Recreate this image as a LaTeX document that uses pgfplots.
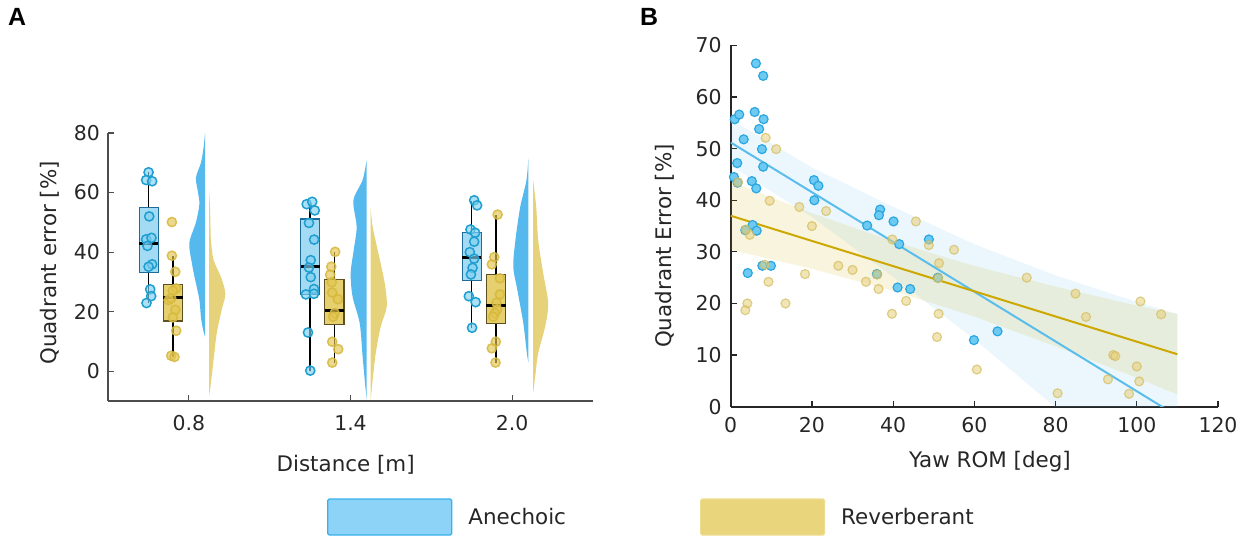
\documentclass[border=0pt]{standalone}
\usepackage{fontspec}
\setmainfont{DejaVu Sans}
\newfontfamily\lblfont{Liberation Sans}
\usepackage{pgfplots}
\pgfplotsset{compat=1.18}
\usepgfplotslibrary{statistics}

\definecolor{axgray}{HTML}{4D4D4D}
\definecolor{txtgray}{HTML}{262626}
\definecolor{vblue}{HTML}{55B9EE}
\definecolor{vyell}{HTML}{E6D27A}
\definecolor{mblue}{HTML}{1E9FD0}
\definecolor{mbluef}{HTML}{7FCFF0}
\definecolor{myell}{HTML}{D6B83C}
\definecolor{myellf}{HTML}{E3C550}
\definecolor{bxblue}{HTML}{A3DBF5}
\definecolor{bxblueedge}{HTML}{1D6D96}
\definecolor{bxyell}{HTML}{E5CF6E}
\definecolor{bxyelledge}{HTML}{5E5020}
\definecolor{lblue}{HTML}{5BBDEB}
\definecolor{lyell}{HTML}{CCA800}
\definecolor{pblue}{HTML}{6DCAF2}
\definecolor{pblueedge}{HTML}{2BA6DF}
\definecolor{pyell}{HTML}{E6D07A}
\definecolor{pyelledge}{HTML}{D4BC60}
\definecolor{legblue}{HTML}{8DD3F8}
\definecolor{legblueedge}{HTML}{38B0EC}
\definecolor{legyell}{HTML}{E8D57C}
\definecolor{legyelledge}{HTML}{EEDC90}

\newcommand\fs{\fontsize{20.5}{24}\selectfont}
\newcommand\fl{\fontsize{21.5}{25}\selectfont}

\pgfplotsset{
  common/.style={
    scale only axis,
    axis x line*=bottom, axis y line*=left,
    tick align=inside, major tick length=6bp,
    ticklabel style={font=\fs, text=txtgray, inner sep=0bp},
    /pgf/number format/assume math mode=true,
    label style={font=\fl, text=txtgray},
  },
  bxcommon/.style={line width=1.3bp,
    boxplot/draw direction=y,
    boxplot/box extend=0.118, boxplot/whisker extend=0,
    boxplot/every whisker/.style={draw=black, line width=1.2bp},
    boxplot/every median/.style={draw=black, line width=2.6bp}},
  abox/.style={bxcommon, draw=bxblueedge, fill=bxblue},
  rbox/.style={bxcommon, draw=bxyelledge, fill=bxyell},
  med/.style={draw=black, line width=3bp},
  adot/.style={only marks, mark=*, mark size=4.6bp,
    mark options={draw=mblue, fill=mbluef, fill opacity=0.65, line width=1.5bp}},
  rdot/.style={only marks, mark=*, mark size=4.6bp,
    mark options={draw=myell, fill=myellf, fill opacity=0.65, draw opacity=0.85, line width=1.5bp}},
}

\begin{document}
\begin{tikzpicture}
\useasboundingbox (0bp,0bp) rectangle (1245bp,-537bp);

\node[anchor=north west, inner sep=0bp, font=\lblfont\bfseries\fontsize{25}{25}\selectfont] at (8bp,-8bp) {A};
\node[anchor=north west, inner sep=0bp, font=\lblfont\bfseries\fontsize{25}{25}\selectfont] at (640bp,-8bp) {B};

% ---------- panel A: raincloud ----------
\begin{axis}[common,
  at={(108bp,-401bp)}, anchor=south west,
  width=485bp, height=268bp,
  xmin=0.5, xmax=3.5, ymin=-10, ymax=80,
  axis line style={draw=axgray, line width=1.2bp},
  tick style={draw=axgray, line width=1.2bp},
  xtick={1,2,3}, xticklabels={0.8,1.4,2.0},
  ytick={0,20,40,60,80},
  xticklabel shift=14bp, yticklabel shift=8bp,
  xlabel={Distance [m]}, ylabel={Quadrant error [\%]},
  xlabel style={at={(axis description cs:0.49,-0.237)}, anchor=center},
  ylabel style={at={(axis description cs:-0.1196,0.515)}, anchor=center},
]
% half violins
\addplot[fill=vblue, draw=none, smooth] coordinates {
 (1.100,80) (1.091,75) (1.075,70) (1.044,65) (1.057,60) (1.065,56) (1.044,50)
 (1.003,43) (1.020,36) (1.034,32) (1.065,24) (1.075,18) (1.088,14) (1.100,11.6)};
\addplot[fill=vyell, draw=none, smooth] coordinates {
 (1.125,60.8) (1.131,55) (1.134,48) (1.137,44) (1.152,37.6) (1.204,30.9) (1.226,25.8)
 (1.204,20.8) (1.173,12.9) (1.158,6.2) (1.144,-0.5) (1.134,-5) (1.125,-8.5)};
\addplot[fill=vblue, draw=none, smooth] coordinates {
 (2.100,71) (2.075,64.2) (2.018,57.4) (2.038,48.5) (2.020,40.7) (2.001,32.9)
 (2.013,25) (2.057,16.1) (2.075,4.9) (2.088,-3) (2.100,-9.6)};
\addplot[fill=vyell, draw=none, smooth] coordinates {
 (2.125,54.7) (2.137,48.5) (2.168,40.7) (2.212,29.5) (2.224,21.7) (2.187,15)
 (2.156,6) (2.137,-3) (2.125,-9.6)};
\addplot[fill=vblue, draw=none, smooth] coordinates {
 (3.100,71.5) (3.088,64) (3.050,55.2) (3.020,44) (3.007,35.1) (3.032,27.3)
 (3.069,16.1) (3.091,6) (3.100,3)};
\addplot[fill=vyell, draw=none, smooth] coordinates {
 (3.130,64) (3.149,55) (3.161,44) (3.192,32.9) (3.223,22.8) (3.204,15)
 (3.161,6) (3.142,-2) (3.130,-7.3)};

% boxes
\addplot[abox, boxplot prepared={draw position=0.752, median=43.0, upper quartile=54.9,
  lower quartile=33.1, upper whisker=66.8, lower whisker=22.9}] coordinates {};
\addplot[rbox, boxplot prepared={draw position=0.902, median=24.9, upper quartile=29.2,
  lower quartile=16.9, upper whisker=38.8, lower whisker=4.8}] coordinates {};
\addplot[abox, boxplot prepared={draw position=1.750, median=35.2, upper quartile=51.1,
  lower quartile=25.8, upper whisker=56.4, lower whisker=0.2}] coordinates {};
\addplot[rbox, boxplot prepared={draw position=1.900, median=20.5, upper quartile=30.9,
  lower quartile=15.8, upper whisker=40.1, lower whisker=2.9}] coordinates {};
\addplot[abox, boxplot prepared={draw position=2.750, median=38.3, upper quartile=46.7,
  lower quartile=30.5, upper whisker=57.1, lower whisker=14.6}] coordinates {};
\addplot[rbox, boxplot prepared={draw position=2.900, median=22.0, upper quartile=32.5,
  lower quartile=16.0, upper whisker=52.3, lower whisker=2.9}] coordinates {};

% raw points
\addplot[adot] coordinates {
 (0.751,66.8) (0.736,64.2) (0.773,63.8) (0.755,52.0) (0.736,44.3) (0.769,44.8)
 (0.744,42.1) (0.773,35.9) (0.751,35.1) (0.761,27.5) (0.767,25.2) (0.738,22.9)
 (1.729,56.1) (1.763,56.9) (1.779,54.0) (1.743,49.8) (1.775,44.2) (1.754,37.3)
 (1.743,34.8) (1.754,31.6) (1.774,27.6) (1.724,25.8) (1.774,26.0) (1.737,13.0)
 (1.751,0.2)
 (2.765,57.4) (2.783,55.7) (2.742,47.6) (2.771,46.5) (2.765,43.5) (2.738,40.0)
 (2.765,37.8) (2.755,34.7) (2.745,32.5) (2.732,25.2) (2.774,23.2) (2.752,14.6)};
\addplot[rdot] coordinates {
 (0.895,50.1) (0.895,38.8) (0.916,33.4) (0.922,27.8) (0.901,27.0) (0.876,23.9)
 (0.891,24.5) (0.916,20.6) (0.901,18.1) (0.922,13.6) (0.891,5.2) (0.911,4.8)
 (1.905,40.1) (1.881,35.1) (1.874,32.4) (1.884,29.9) (1.887,26.4) (1.922,24.2)
 (1.902,19.5) (1.892,18.3) (1.887,9.9) (1.924,7.4) (1.887,2.9)
 (2.910,52.6) (2.889,38.3) (2.874,35.9) (2.924,31.2) (2.924,25.8) (2.903,23.0)
 (2.907,20.8) (2.893,19.5) (2.882,18.3) (2.899,9.9) (2.874,7.7) (2.897,2.9)};

% medians, drawn over the points
\addplot[med] coordinates {(0.693,43.0) (0.811,43.0)};
\addplot[med] coordinates {(0.843,24.9) (0.961,24.9)};
\addplot[med] coordinates {(1.691,35.2) (1.809,35.2)};
\addplot[med] coordinates {(1.841,20.5) (1.959,20.5)};
\addplot[med] coordinates {(2.691,38.3) (2.809,38.3)};
\addplot[med] coordinates {(2.841,22.0) (2.959,22.0)};
\end{axis}

% ---------- panel B: scatter with fits ----------
\begin{axis}[common,
  at={(730.7bp,-406.7bp)}, anchor=south west,
  width=487.3bp, height=361.3bp,
  xmin=0, xmax=120, ymin=0, ymax=70,
  axis line style={draw=txtgray, line width=1.6bp},
  tick style={draw=txtgray, line width=1.2bp},
  xtick={0,20,...,120}, ytick={0,10,...,70},
  xticklabel shift=10bp, yticklabel shift=9bp,
  xlabel={Yaw ROM [deg]}, ylabel={Quadrant Error [\%]},
  xlabel style={at={(axis description cs:0.532,-0.153)}, anchor=center},
  ylabel style={at={(axis description cs:-0.135,0.445)}, anchor=center},
  legend columns=2,
  legend style={at={(axis description cs:-0.8284,-0.3053)}, anchor=west,
    draw=none, fill=none, inner sep=0bp, font=\fl, text=txtgray,
    nodes={inner sep=0bp},
    /tikz/every odd column/.append style={column sep=16bp},
    /tikz/every even column/.append style={column sep=134bp}},
]
\addlegendimage{legend image code/.code={\draw[fill=legblue, draw=legblueedge,
  line width=1.2bp, rounded corners=1.5bp] (0bp,-18bp) rectangle (124bp,18bp);}}
\addlegendentry{Anechoic}
\addlegendimage{legend image code/.code={\draw[fill=legyell, draw=legyelledge,
  line width=1.2bp, rounded corners=1.5bp] (0bp,-18bp) rectangle (124bp,18bp);}}
\addlegendentry{Reverberant}

% confidence bands
\addplot[fill=lblue, fill opacity=0.12, draw=none] coordinates {
 (0,55.7) (20,46.36) (40,38.72) (60,31.48) (80,25.44) (100,20.3) (110,17.98)
 (110,-21.62) (100,-14.3) (80,-0.16) (60,13.08) (40,25.12) (20,36.76) (0,46.7)};
\addplot[fill=lyell, fill opacity=0.13, draw=none] coordinates {
 (0,43.6) (20,37.52) (40,32.04) (60,27.26) (80,23.28) (100,19.6) (110,17.96)
 (110,2.36) (100,5.6) (80,11.68) (60,17.46) (40,22.44) (20,26.72) (0,30.4)};

% points
\addplot[only marks, mark=*, mark size=4.5bp,
  mark options={draw=pblueedge, fill=pblue, line width=1.2bp}] coordinates {
 (6.2,66.5) (8.0,64.1) (1.0,55.7) (2.1,56.6) (5.9,57.1) (8.1,55.7) (7.0,53.8)
 (3.2,51.8) (7.7,49.9) (1.6,47.2) (8.0,46.5) (0.8,44.5) (1.7,43.4) (5.2,43.7)
 (6.3,42.3) (20.5,43.9) (21.6,42.8) (20.6,40.0) (36.8,38.2) (36.5,37.1)
 (40.1,35.9) (33.6,35.1) (48.8,32.4) (41.5,31.5) (3.6,34.2) (5.4,35.2)
 (6.4,34.1) (4.2,25.9) (7.8,27.3) (9.9,27.3) (36.0,25.7) (41.1,23.1)
 (44.2,22.8) (51.0,25.0) (59.9,12.9) (65.7,14.6)};
\addplot[only marks, mark=*, mark size=4.5bp,
  mark options={draw=pyelledge, fill=pyell, fill opacity=0.55, draw opacity=0.7,
  line width=1.2bp}] coordinates {
 (8.6,52.1) (11.2,49.9) (9.6,39.9) (16.9,38.7) (23.5,37.9) (20.0,35.0) (45.6,35.9)
 (4.7,33.3) (39.8,32.4) (48.8,31.3) (55.0,30.4) (8.4,27.5) (9.3,24.2) (4.1,20.0)
 (3.6,18.7) (13.5,20.0) (18.3,25.7) (26.5,27.3) (30.0,26.5) (33.3,24.2) (36.4,22.8)
 (39.7,18.0) (43.2,20.5) (51.3,27.8) (51.2,18.0) (50.8,13.5) (60.6,7.2) (72.9,25.0)
 (84.9,21.9) (87.5,17.4) (100.9,20.4) (106.0,17.9) (94.2,10.0) (94.7,9.8)
 (100.0,7.8) (92.9,5.3) (100.6,4.9) (80.5,2.6) (98.1,2.5)
 (1.8,43.5) (3.7,34.3) (36.1,25.6) (51.1,24.9)};

% fitted lines
\addplot[draw=lblue, line width=2bp] coordinates {(0,51.2) (110,-1.82)};
\addplot[draw=lyell, line width=2bp] coordinates {(0,37.0) (110,10.16)};
\end{axis}
\end{tikzpicture}
\end{document}
